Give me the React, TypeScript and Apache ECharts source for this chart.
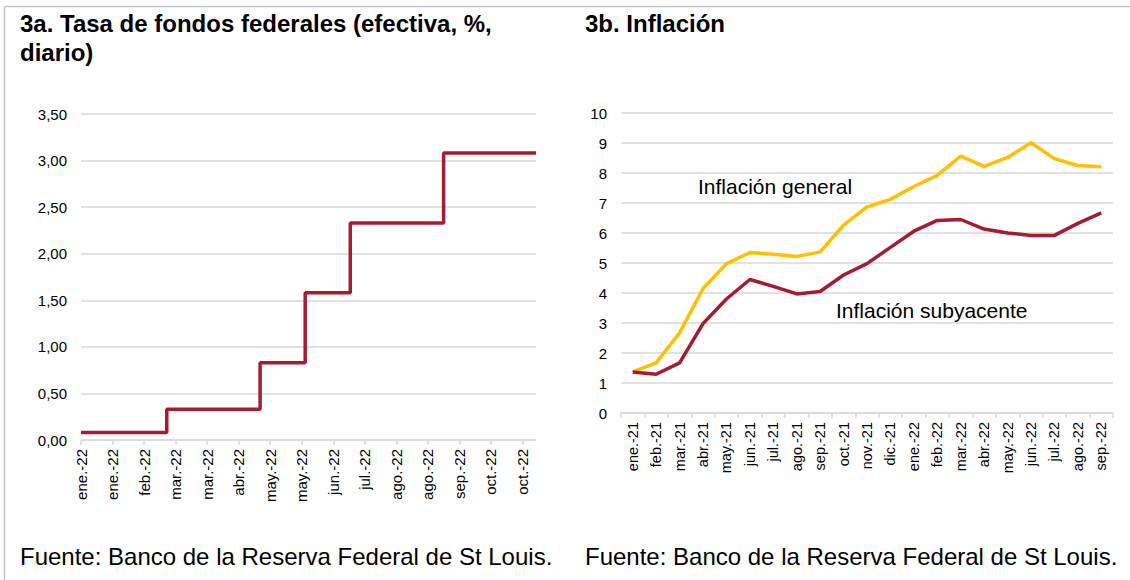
import React, { useEffect, useRef } from "react";
import * as echarts from "echarts";

// ---- 3a data ----
const fedTickLabels = [
  "ene.-22", "ene.-22", "feb.-22", "mar.-22", "mar.-22", "abr.-22", "may.-22", "may.-22",
  "jun.-22", "jul.-22", "ago.-22", "ago.-22", "sep.-22", "oct.-22", "oct.-22",
];
// positions in units of label spacing (from first label)
const fedStepX = [0, 2.72, 5.68, 7.11, 8.54, 11.5, 14.43];
const fedStepY = [0.08, 0.33, 0.83, 1.58, 2.33, 3.08, 3.08];
const fedAxisMax = 14.43;

// ---- 3b data ----
const inflMonths = [
  "ene.-21", "feb.-21", "mar.-21", "abr.-21", "may.-21", "jun.-21", "jul.-21", "ago.-21",
  "sep.-21", "oct.-21", "nov.-21", "dic.-21", "ene.-22", "feb.-22", "mar.-22", "abr.-22",
  "may.-22", "jun.-22", "jul.-22", "ago.-22", "sep.-22",
];
const inflGeneral = [1.37, 1.67, 2.67, 4.15, 4.97, 5.35, 5.29, 5.22, 5.37, 6.26, 6.87, 7.12, 7.55, 7.92, 8.56, 8.22, 8.52, 9.01, 8.48, 8.25, 8.21];
const inflCore = [1.37, 1.29, 1.67, 2.98, 3.8, 4.45, 4.22, 3.97, 4.05, 4.6, 4.98, 5.52, 6.06, 6.42, 6.45, 6.13, 6.0, 5.92, 5.92, 6.32, 6.67];

const FONT = "'Liberation Sans', Arial, Helvetica, sans-serif";
const RED = "#A51C30";
const YELLOW = "#FFC000";
const GRID = "#d9d9d9";

export default function App() {
  const ref = useRef<HTMLDivElement>(null);
  useEffect(() => {
    document.body.style.margin = "0";
    const chart = echarts.init(ref.current!, null, { renderer: "svg" });
    const axisLabelBase = { color: "#000", fontFamily: FONT, fontSize: 15 };
    const txt = (x: number, y: number, text: string, font: string) => ({
      type: "text", x, y,
      style: { text, font, fill: "#000", verticalAlign: "middle" },
    });
    chart.setOption({
      animation: false,
      backgroundColor: "#fff",
      textStyle: { fontFamily: FONT },
      grid: [
        { left: 81, right: 594, top: 114, bottom: 140 },
        { left: 621, right: 17, top: 113, bottom: 167 },
      ],
      xAxis: [
        {
          gridIndex: 0,
          type: "value",
          min: 0,
          max: fedAxisMax,
          splitLine: { show: false },
          axisLine: { show: true, lineStyle: { color: GRID, width: 1.5 } },
          axisTick: {
            show: true,
            length: 5,
            lineStyle: { color: GRID, width: 1.5 },
            customValues: fedTickLabels.map((_, i) => i),
          },
          axisLabel: {
            ...axisLabelBase,
            rotate: 90,
            margin: 9,
            customValues: fedTickLabels.map((_, i) => i),
            formatter: (v: number) => fedTickLabels[Math.round(v)] ?? "",
          },
        },
        {
          gridIndex: 1,
          type: "category",
          data: inflMonths,
          axisLine: { show: true, lineStyle: { color: GRID, width: 1.5 } },
          axisTick: { show: true, length: 5, interval: 0, lineStyle: { color: GRID, width: 1.5 } },
          axisLabel: { ...axisLabelBase, fontSize: 14.5, rotate: 90, margin: 9, interval: 0 },
        },
      ],
      yAxis: [
        {
          gridIndex: 0,
          type: "value",
          min: 0,
          max: 3.5,
          interval: 0.5,
          axisLine: { show: false },
          axisTick: { show: false },
          splitLine: { lineStyle: { color: GRID, width: 1.5 } },
          axisLabel: {
            ...axisLabelBase,
            margin: 14,
            formatter: (v: number) => v.toFixed(2).replace(".", ","),
          },
        },
        {
          gridIndex: 1,
          type: "value",
          min: 0,
          max: 10,
          interval: 1,
          axisLine: { show: false },
          axisTick: { show: false },
          splitLine: { lineStyle: { color: GRID, width: 1.5 } },
          axisLabel: { ...axisLabelBase, margin: 14 },
        },
      ],
      series: [
        {
          type: "line",
          xAxisIndex: 0,
          yAxisIndex: 0,
          step: "end",
          symbol: "none",
          lineStyle: { color: RED, width: 3.5 },
          data: fedStepX.map((x, i) => [x, fedStepY[i]]),
        },
        {
          name: "Inflación general",
          type: "line",
          xAxisIndex: 1,
          yAxisIndex: 1,
          symbol: "none",
          lineStyle: { color: YELLOW, width: 3.5 },
          data: inflGeneral,
        },
        {
          name: "Inflación subyacente",
          type: "line",
          xAxisIndex: 1,
          yAxisIndex: 1,
          symbol: "none",
          lineStyle: { color: RED, width: 3.5 },
          data: inflCore,
        },
      ],
      graphic: [
        { type: "line", shape: { x1: 4.5, y1: 6.5, x2: 1130, y2: 6.5 }, style: { stroke: "#c3c6ca", lineWidth: 1.5 } },
        { type: "line", shape: { x1: 4.5, y1: 6.5, x2: 4.5, y2: 580 }, style: { stroke: "#c3c6ca", lineWidth: 1.5 } },
        txt(20, 23, "3a. Tasa de fondos federales (efectiva, %,", `bold 24px ${FONT}`),
        txt(20, 52, "diario)", `bold 24px ${FONT}`),
        txt(585, 23, "3b. Inflación", `bold 24px ${FONT}`),
        txt(698, 186, "Inflación general", `21px ${FONT}`),
        txt(836, 310, "Inflación subyacente", `21px ${FONT}`),
        txt(20, 556, "Fuente: Banco de la Reserva Federal de St Louis.", `24px ${FONT}`),
        txt(585, 556, "Fuente: Banco de la Reserva Federal de St Louis.", `24px ${FONT}`),
      ],
    });
    return () => chart.dispose();
  }, []);
  return <div ref={ref} style={{ width: 1130, height: 580 }} />;
}
